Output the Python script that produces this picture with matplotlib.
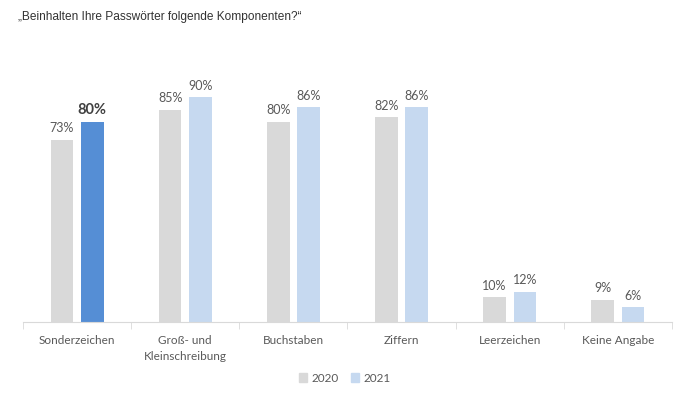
import matplotlib.pyplot as plt
import numpy as np

categories = ['Sonderzeichen', 'Groß- und\nKleinschreibung', 'Buchstaben', 'Ziffern',
              'Leerzeichen', 'Keine Angabe']
values_2020 = [73, 85, 80, 82, 10, 9]
values_2021 = [80, 90, 86, 86, 12, 6]
series_labels = ['2020', '2021']
title = '„Beinhalten Ihre Passwörter folgende Komponenten?“'

gray = '#d9d9d9'
light_blue = '#c6d9f0'
dark_blue = '#558ed5'
text_col = '#595959'
lab_font = 'Lato'

fig = plt.figure(figsize=(6.9, 3.97), dpi=100)
ax = fig.add_axes([23 / 690, 1 - 322 / 397, 649 / 690, 250 / 397])

x = np.arange(len(categories))
w = 0.21
off = 0.14
colors_2021 = [dark_blue] + [light_blue] * (len(categories) - 1)
b1 = ax.bar(x - off, values_2020, w, color=gray, label=series_labels[0])
b2 = ax.bar(x + off, values_2021, w, color=colors_2021, label=series_labels[1])

for i, v in enumerate(values_2020):
    ax.text(x[i] - off, v + 2.2, f'{v}%', ha='center', va='bottom',
            fontsize=9, color=text_col, family=lab_font)
for i, v in enumerate(values_2021):
    bold = i == 0
    ax.text(x[i] + off, v + 2.2, f'{v}%', ha='center', va='bottom',
            fontsize=10.5 if bold else 9, fontweight='bold' if bold else 'normal',
            color='#404040' if bold else text_col, family=lab_font)

ax.set_xlim(-0.5, len(categories) - 0.5)
ax.set_ylim(0, 100)
ax.set_yticks([])
for s in ['top', 'right', 'left']:
    ax.spines[s].set_visible(False)
ax.spines['bottom'].set_color('#d9d9d9')

ax.set_xticks(x)
ax.set_xticklabels(categories, fontsize=8.5, color=text_col, family=lab_font, linespacing=1.6)
ax.tick_params(axis='x', length=0, pad=9)
ax.set_xticks(np.arange(len(categories) + 1) - 0.5, minor=True)
ax.tick_params(axis='x', which='minor', length=5, color='#d9d9d9')

fig.text(18 / 690, 1 - 17 / 397, title, fontsize=8.6, color='#333333',
         family='Liberation Sans', va='center')

handles = [plt.Rectangle((0, 0), 1, 1, color=gray), plt.Rectangle((0, 0), 1, 1, color=light_blue)]
leg = fig.legend(handles, series_labels, loc='center', bbox_to_anchor=(345 / 690, 1 - 378 / 397),
                 ncol=2, frameon=False, fontsize=8.5, handlelength=0.7, handleheight=0.7,
                 handletextpad=0.4, columnspacing=1.0)
for t in leg.get_texts():
    t.set_color(text_col)
    t.set_family(lab_font)

fig.savefig('out.png', dpi=100)
